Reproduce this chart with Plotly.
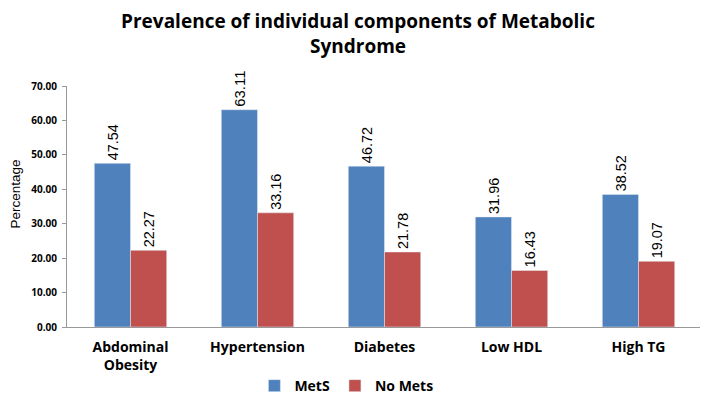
import plotly.graph_objects as go

categories = ["Abdominal<br>Obesity", "Hypertension", "Diabetes", "Low HDL", "High TG"]
mets = [47.54, 63.11, 46.72, 31.96, 38.52]
no_mets = [22.27, 33.16, 21.78, 16.43, 19.07]
tick_vals = [0, 10, 20, 30, 40, 50, 60, 70]
tick_text = ["<b>%.2f</b>" % v for v in tick_vals]

label_font = dict(family="Liberation Sans Narrow, Liberation Sans", size=15, color="black")

fig = go.Figure()
fig.add_trace(go.Bar(name="<b>MetS</b>", x=categories, y=mets, marker_color="#4F81BD",
                     text=["%.2f" % v for v in mets], textposition="outside",
                     textangle=-90, cliponaxis=False, textfont=label_font))
fig.add_trace(go.Bar(name="<b>No Mets</b>", x=categories, y=no_mets, marker_color="#C0504D",
                     text=["%.2f" % v for v in no_mets], textposition="outside",
                     textangle=-90, cliponaxis=False, textfont=label_font))

fig.update_layout(
    width=700, height=393,
    paper_bgcolor="white", plot_bgcolor="white",
    barmode="group", bargap=0.43, bargroupgap=0,
    margin=dict(l=59, r=6, t=78, b=74, autoexpand=False),
    title=dict(text="<b>Prevalence of individual components of Metabolic<br>Syndrome</b>",
               x=0.5, xanchor="center", y=0.948, yanchor="middle",
               font=dict(family="Open Sans", size=19, color="black")),
    font=dict(family="Open Sans", color="black"),
    legend=dict(orientation="h", x=0.44, xanchor="center", y=-0.245, yanchor="middle",
                font=dict(family="Open Sans", size=14, color="black"),
                itemwidth=30, traceorder="normal"),
    xaxis=dict(showline=True, linecolor="#999999", linewidth=1,
               ticks="outside", ticklen=7, tickcolor="rgba(0,0,0,0)",
               tickfont=dict(family="Open Sans", size=14, color="black"),
               tickprefix="<b>", ticksuffix="</b>",
               showgrid=False, automargin=False),
    yaxis=dict(range=[0, 70], tickvals=tick_vals, ticktext=tick_text,
               showline=True, linecolor="#999999", linewidth=1,
               ticks="outside", ticklen=4, tickcolor="#999999",
               ticklabelstandoff=3,
               showgrid=False, zeroline=False, automargin=False,
               tickfont=dict(family="Open Sans", size=10, color="black")),
    annotations=[dict(text="Percentage", textangle=-90, xref="paper", yref="paper",
                      x=(15 - 67) / 635, y=0.55, xanchor="center", yanchor="middle",
                      showarrow=False,
                      font=dict(family="Liberation Sans Narrow, Liberation Sans", size=13.5, color="black"))],
)

fig.write_html("out.html")
